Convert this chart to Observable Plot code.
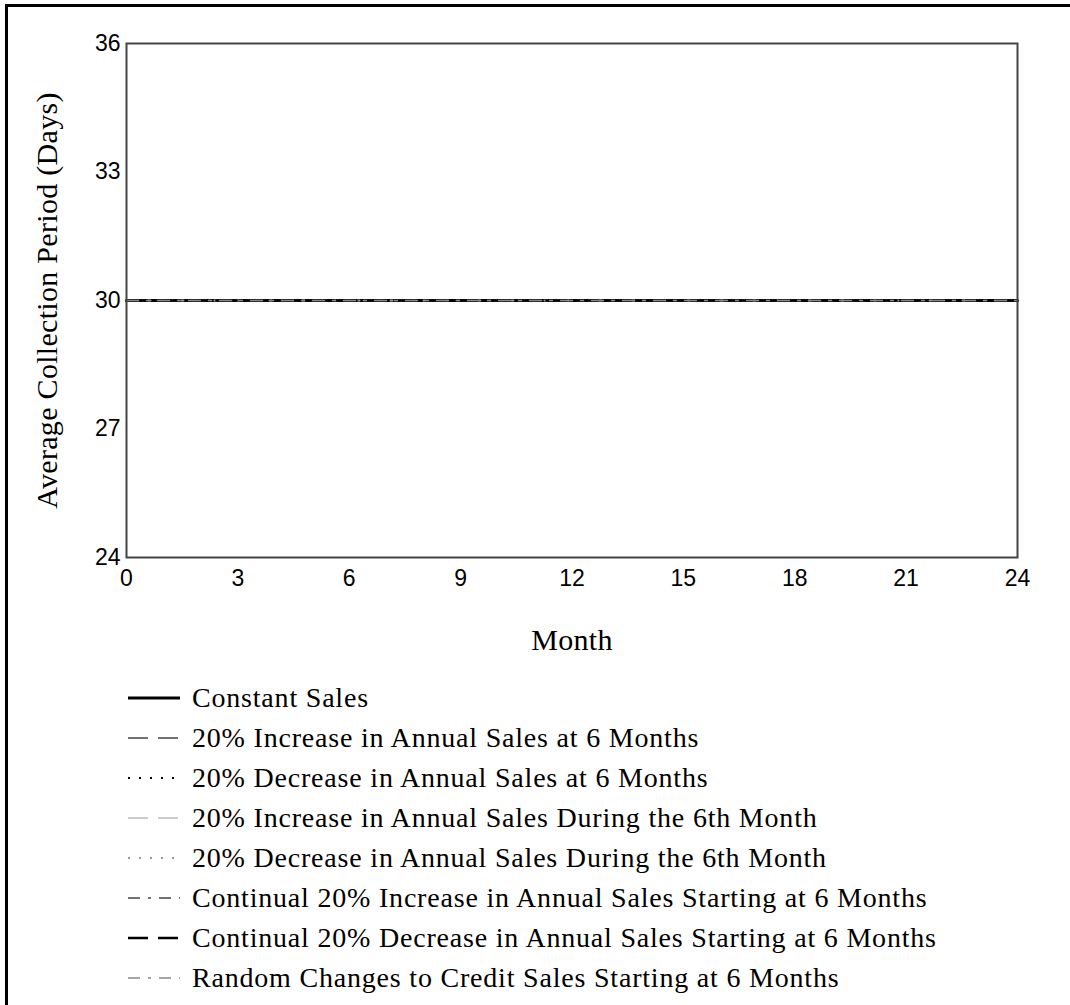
<!DOCTYPE html>
<html>
<head>
<meta charset="utf-8">
<script src="https://cdn.jsdelivr.net/npm/d3@7"></script>
<script src="https://cdn.jsdelivr.net/npm/@observablehq/plot@0.6"></script>
<style>
  html, body { margin: 0; padding: 0; background: #fff; width: 1070px; height: 1005px; overflow: hidden; }
  #outer { position: absolute; left: 5px; top: 4px; width: 1200px; height: 1200px; border-left: 3px solid #000; border-top: 3px solid #000; pointer-events: none; }
  #chart { position: absolute; left: 0; top: 0; }
  #chart svg g[aria-label="x-axis label"] text,
  #chart svg g[aria-label="y-axis label"] text,
  #chart svg g[aria-label="x-axis label"],
  #chart svg g[aria-label="y-axis label"] { font-family: "Liberation Serif", serif; font-size: 30px; fill: #000; letter-spacing: 0.3px; }
  #legend { position: absolute; left: 128px; top: 678px; font-family: "Liberation Serif", serif; font-size: 28px; color: #000; letter-spacing: 0.8px; }
  .row { display: flex; align-items: center; height: 40px; white-space: nowrap; }
  .row svg { width: 52px; height: 12px; margin-right: 12px; flex: none; }
</style>
</head>
<body>
<div id="chart"></div>
<div id="legend"></div>
<div id="outer"></div>
<script>
// Data
const months = [0, 6, 12, 18, 24];
const seriesNames = [
  "Constant Sales",
  "20% Increase in Annual Sales at 6 Months",
  "20% Decrease in Annual Sales at 6 Months",
  "20% Increase in Annual Sales During the 6th Month",
  "20% Decrease in Annual Sales During the 6th Month",
  "Continual 20% Increase in Annual Sales Starting at 6 Months",
  "Continual 20% Decrease in Annual Sales Starting at 6 Months",
  "Random Changes to Credit Sales Starting at 6 Months"
];
const constantSales      = [30, 30, 30, 30, 30];
const increaseAt6        = [30, 30, 30, 30, 30];
const decreaseAt6        = [30, 30, 30, 30, 30];
const increaseDuring6th  = [30, 30, 30, 30, 30];
const decreaseDuring6th  = [30, 30, 30, 30, 30];
const continualIncrease  = [30, 30, 30, 30, 30];
const continualDecrease  = [30, 30, 30, 30, 30];
const randomChanges      = [30, 30, 30, 30, 30];
const xTicks = [0, 3, 6, 9, 12, 15, 18, 21, 24];
const yTicks = [24, 27, 30, 33, 36];

const seriesValues = [constantSales, increaseAt6, decreaseAt6, increaseDuring6th,
  decreaseDuring6th, continualIncrease, continualDecrease, randomChanges];
const styles = [
  {stroke: "#000", width: 3, dash: null},
  {stroke: "#444", width: 1.5, dash: "20,10"},
  {stroke: "#000", width: 2, dash: "2,9"},
  {stroke: "#bbb", width: 1.5, dash: "20,10"},
  {stroke: "#999", width: 2, dash: "2,9"},
  {stroke: "#444", width: 1.5, dash: "12,8,3,8"},
  {stroke: "#000", width: 2.5, dash: "20,10"},
  {stroke: "#888", width: 1.5, dash: "12,8,3,8"}
];

const rows = [];
seriesNames.forEach((name, i) => {
  seriesValues[i].forEach((v, j) => rows.push({series: name, month: months[j], value: v}));
});

const lineMarks = seriesNames.map((name, i) => Plot.line(rows.filter(d => d.series === name), {
  x: "month", y: "value",
  stroke: styles[i].stroke,
  strokeWidth: styles[i].width,
  strokeDasharray: styles[i].dash
}));

const chart = Plot.plot({
  width: 1070,
  height: 670,
  marginLeft: 126,
  marginTop: 43,
  marginRight: 53,
  marginBottom: 113,
  style: {fontFamily: "Liberation Sans, Arial, sans-serif", fontSize: "23px", color: "#000", background: "transparent"},
  x: {domain: [0, 24], ticks: xTicks, tickSize: 0, tickPadding: 12, label: "Month", labelAnchor: "center", labelOffset: 92, labelArrow: "none", tickFormat: d => String(d)},
  y: {domain: [24, 36], ticks: yTicks, tickSize: 0, tickPadding: 6, label: "Average Collection Period (Days)", labelAnchor: "center", labelOffset: 91, labelArrow: "none", tickFormat: d => String(d)},
  marks: [
    ...lineMarks,
    Plot.frame({stroke: "#444", strokeWidth: 2})
  ]
});
document.getElementById("chart").appendChild(chart);

// Legend
const legend = document.getElementById("legend");
seriesNames.forEach((name, i) => {
  const row = document.createElement("div");
  row.className = "row";
  const s = styles[i];
  row.innerHTML = `<svg viewBox="0 0 52 12"><line x1="0" y1="6" x2="52" y2="6" stroke="${s.stroke}" stroke-width="${s.width}" ${s.dash ? `stroke-dasharray="${s.dash}"` : ""}/></svg><span>${name}</span>`;
  legend.appendChild(row);
});
</script>
</body>
</html>
